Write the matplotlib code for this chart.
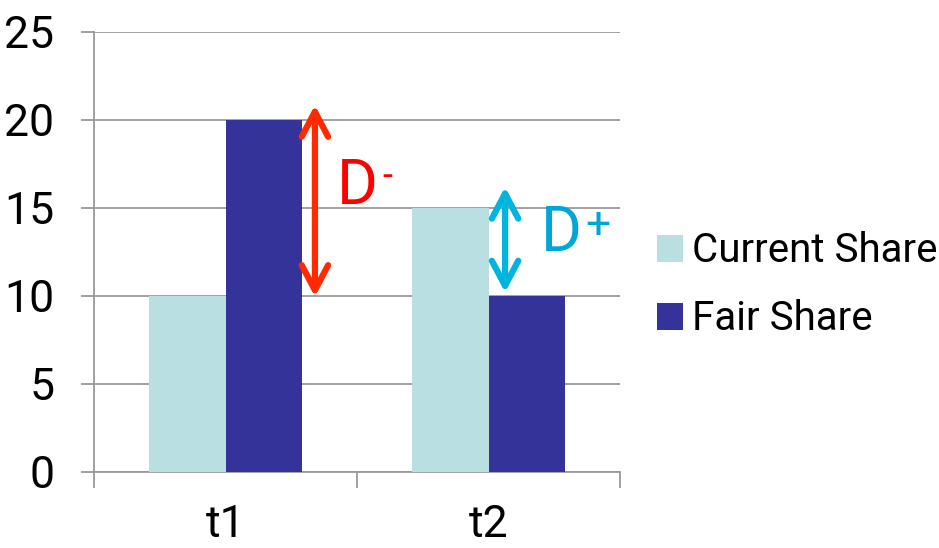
import matplotlib
matplotlib.use("Agg")
import matplotlib.pyplot as plt
import numpy as np

categories = ["t1", "t2"]
current_share = [10, 15]
fair_share = [20, 10]
series_names = ["Current Share", "Fair Share"]
y_ticks = [0, 5, 10, 15, 20, 25]

plt.rcParams["font.family"] = ["Liberation Sans Narrow", "Roboto", "DejaVu Sans"]

fig = plt.figure(figsize=(9.39, 5.48), dpi=100)
ax = fig.add_axes([94/939, 1-472/548, (620-94)/939, (472-32)/548])

x = np.arange(len(categories))
w = 0.29
b1 = ax.bar(x - w/2, current_share, w, color="#BADFE2", label=series_names[0], zorder=3)
b2 = ax.bar(x + w/2, fair_share, w, color="#333399", label=series_names[1], zorder=3)

ax.set_xlim(-0.5, len(categories) - 0.5)
ax.set_ylim(0, 25)
ax.set_yticks(y_ticks)
ax.set_yticklabels([str(v) for v in y_ticks], fontsize=32)
ax.yaxis.grid(True, color="#9A9A9A", lw=1.3, zorder=0)
ax.tick_params(axis="y", length=9.5, width=1.3, color="#9A9A9A", pad=19)

ax.set_xticks(x)
ax.set_xticklabels(categories, fontsize=32)
ax.set_xticks(np.arange(-0.5, len(categories)), minor=True)
ax.tick_params(axis="x", which="major", length=0, pad=23)
ax.tick_params(axis="x", which="minor", length=11.5, width=1.3, color="#9A9A9A")

for s in ["top", "right"]:
    ax.spines[s].set_visible(False)
for s in ["left", "bottom"]:
    ax.spines[s].set_color("#9A9A9A")
    ax.spines[s].set_linewidth(1.3)

arrow_style = "<->,head_length=1.8,head_width=0.95"

# D- arrow (t1: current -> fair)
red_x = 0.34
ax.annotate("", xy=(red_x, fair_share[0] + 0.85), xytext=(red_x, current_share[0] - 0.05),
            arrowprops=dict(arrowstyle=arrow_style, lw=4.5, color="#FF2A00",
                            shrinkA=0, shrinkB=0, capstyle="round", joinstyle="round"),
            zorder=5)
ax.text(0.422, 16.2, "D", color="#FF0000", fontsize=45, va="center", ha="left")
ax.text(0.598, 16.75, "-", color="#FF0000", fontsize=26, va="center", ha="left")

# D+ arrow (t2: fair -> current)
cy_x = 1.063
ax.annotate("", xy=(cy_x, current_share[1] + 1.2), xytext=(cy_x, fair_share[1] + 0.2),
            arrowprops=dict(arrowstyle=arrow_style, lw=4.5, color="#00B4E0",
                            shrinkA=0, shrinkB=0, capstyle="round", joinstyle="round"),
            zorder=5)
ax.text(1.2, 13.5, "D", color="#00A6D6", fontsize=45, va="center", ha="left")
ax.text(1.368, 14.0, "+", color="#00A6D6", fontsize=32, va="center", ha="left")

leg = fig.legend(handles=[b1, b2], labels=series_names, loc="center left",
                 bbox_to_anchor=(657/939, 1-285/548), frameon=False,
                 borderaxespad=0, borderpad=0,
                 prop=dict(size=29), handlelength=0.65, handleheight=0.65,
                 handletextpad=0.22, labelspacing=0.72)

fig.savefig("out.png", dpi=100)
